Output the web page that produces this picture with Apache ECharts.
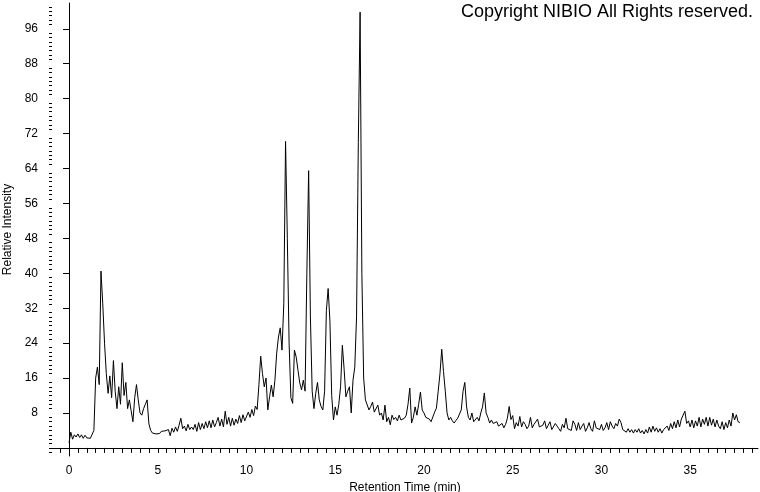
<!DOCTYPE html>
<html>
<head>
<meta charset="utf-8">
<title>Chromatogram</title>
<script src="https://cdn.jsdelivr.net/npm/echarts@6/dist/echarts.min.js"></script>
<style>
  html, body { margin: 0; padding: 0; background: #fff; }
  #chart { width: 760px; height: 492px; }
</style>
</head>
<body>
<div id="chart"></div>
<script>
// retention time sampling (min)
const timeStart = 0
const timeStep = 0.1

// relative intensity, one value per timeStep from 0.0 to 37.8 min
const intensity = [
  1.2, 3.6, 2.0, 3.0, 2.5, 3.2, 2.4, 3.0, 2.2, 2.9,
  2.3, 2.7, 2.2, 2.6, 4.0, 16.0, 18.5, 14.5, 40.5, 33.0,
  24.0, 17.0, 12.5, 16.5, 11.5, 20.0, 13.0, 9.0, 14.0, 10.0,
  19.5, 12.0, 15.0, 9.0, 11.0, 8.5, 6.0, 11.5, 14.5, 11.0,
  8.0, 7.5, 9.0, 10.0, 11.0, 5.5, 4.0, 3.4, 3.6, 3.2,
  3.5, 3.3, 3.8, 3.4, 3.9, 3.5, 4.2, 2.8, 4.5, 3.6,
  4.8, 3.8, 5.2, 6.8, 4.4, 5.0, 3.9, 5.4, 4.2, 4.8,
  4.2, 5.4, 3.8, 5.8, 4.2, 5.6, 4.4, 6.0, 4.6, 6.2,
  4.6, 6.4, 4.8, 5.8, 7.0, 5.0, 6.6, 4.8, 8.4, 5.4,
  7.0, 5.0, 6.8, 5.2, 6.6, 5.6, 7.4, 5.8, 7.6, 6.2,
  6.6, 8.2, 7.0, 8.8, 7.4, 9.6, 8.8, 14.5, 21.0, 17.0,
  14.0, 16.0, 8.7, 11.7, 14.4, 11.7, 15.5, 21.7, 25.4, 27.5,
  22.4, 33.0, 70.2, 48.0, 24.0, 11.5, 10.2, 22.4, 20.8, 17.8,
  14.9, 13.3, 15.5, 13.0, 40.0, 63.5, 30.0, 13.0, 9.0, 12.5,
  15.0, 11.0, 9.5, 8.7, 13.0, 31.5, 36.5, 29.0, 12.0, 6.4,
  9.4, 7.5, 10.0, 14.0, 23.5, 18.0, 11.7, 13.0, 14.0, 8.0,
  15.5, 18.5, 30.0, 70.0, 99.8, 40.0, 16.0, 11.0, 11.4, 8.7,
  9.5, 10.5, 8.2, 8.5, 9.8, 7.5, 8.0, 6.4, 9.8, 6.0,
  7.0, 5.3, 7.5, 6.5, 7.0, 6.2, 7.5, 6.4, 6.0, 6.8,
  7.5, 10.0, 13.7, 5.7, 7.0, 9.4, 7.5, 10.0, 12.8, 8.7,
  8.0, 7.0, 7.4, 6.6, 6.0, 6.4, 8.2, 9.1, 13.0, 17.0,
  22.6, 17.5, 13.0, 8.0, 6.4, 7.0, 6.2, 5.7, 6.3, 6.8,
  7.2, 8.7, 13.0, 15.0, 9.4, 7.0, 6.4, 8.0, 6.0, 6.4,
  7.0, 6.2, 8.0, 9.4, 12.6, 8.0, 7.0, 5.7, 6.4, 5.6,
  5.3, 6.0, 5.0, 4.6, 5.6, 4.6, 5.4, 6.8, 9.5, 6.5,
  7.4, 4.4, 5.8, 5.0, 7.2, 4.8, 6.0, 5.4, 4.4, 5.0,
  7.0, 4.6, 5.4, 5.0, 6.6, 4.8, 4.4, 5.2, 6.2, 4.4,
  5.2, 6.0, 4.2, 4.0, 5.6, 5.0, 4.4, 3.8, 5.4, 4.6,
  6.8, 4.4, 4.8, 4.0, 6.2, 5.4, 4.0, 5.8, 4.2, 5.0,
  5.6, 3.8, 4.6, 5.8, 4.4, 3.8, 6.2, 4.6, 5.0, 4.2,
  5.4, 4.0, 4.6, 5.8, 4.2, 6.0, 5.0, 4.4, 5.6, 5.0,
  6.6, 5.8, 4.2, 4.6, 3.6, 4.4, 3.6, 4.2, 3.4, 4.2,
  3.6, 4.4, 3.4, 4.0, 3.2, 4.2, 3.4, 4.8, 3.6, 5.0,
  3.8, 4.6, 3.6, 4.4, 3.4, 4.2, 3.8, 5.0, 4.0, 5.6,
  4.4, 6.0, 4.6, 6.4, 4.8, 6.6, 7.0, 8.4, 5.6, 6.2,
  4.8, 6.4, 4.6, 6.2, 5.0, 7.0, 4.8, 6.6, 5.4, 7.0,
  5.0, 7.0, 5.2, 6.6, 4.8, 6.4, 5.0, 4.4, 6.0, 4.2,
  5.8, 4.6, 6.4, 5.0, 8.0, 6.4, 7.6, 6.0, 5.8
]

// axis ticks and labels
const xLabelValues = [0, 5, 10, 15, 20, 25, 30, 35]
const xTickValues = [-0.5, 0, 0.5, 1, 1.5, 2, 2.5, 3, 3.5, 4, 4.5, 5, 5.5, 6, 6.5, 7, 7.5, 8, 8.5, 9, 9.5,
  10, 10.5, 11, 11.5, 12, 12.5, 13, 13.5, 14, 14.5, 15, 15.5, 16, 16.5, 17, 17.5, 18, 18.5, 19, 19.5,
  20, 20.5, 21, 21.5, 22, 22.5, 23, 23.5, 24, 24.5, 25, 25.5, 26, 26.5, 27, 27.5, 28, 28.5, 29, 29.5,
  30, 30.5, 31, 31.5, 32, 32.5, 33, 33.5, 34, 34.5, 35, 35.5, 36, 36.5, 37, 37.5, 38, 38.5]
const yLabelValues = [8, 16, 24, 32, 40, 48, 56, 64, 72, 80, 88, 96]
const yMinorTickValues = [-1, 0, 1, 2, 3, 4, 5, 6, 7, 9, 10, 11, 12, 13, 14, 15, 17, 18, 19, 20, 21, 22, 23,
  25, 26, 27, 28, 29, 30, 31, 33, 34, 35, 36, 37, 38, 39, 41, 42, 43, 44, 45, 46, 47,
  49, 50, 51, 52, 53, 54, 55, 57, 58, 59, 60, 61, 62, 63, 65, 66, 67, 68, 69, 70, 71,
  73, 74, 75, 76, 77, 78, 79, 81, 82, 83, 84, 85, 86, 87, 89, 90, 91, 92, 93, 94, 95,
  97, 98, 99, 100, 101]

const copyrightText = 'Copyright NIBIO All Rights reserved.'

const font = '"Liberation Sans", Arial, sans-serif'
const xRange = [-0.96, 38.82]
const yRange = [-1.85, 101.9]

const chartEl = document.getElementById('chart')
const chart = echarts.init(chartEl, null, { renderer: 'canvas' })

const seriesData = intensity.map((v, i) => [+(timeStart + i * timeStep).toFixed(2), v])

const baseY = {
  type: 'value',
  min: yRange[0],
  max: yRange[1],
  splitLine: { show: false },
}

chart.setOption({
  animation: false,
  backgroundColor: '#fff',
  grid: {
    left: 52,
    right: 2,
    top: 3,
    bottom: 36,
    containLabel: false,
    outerBoundsMode: 'none'
  },
  graphic: [{
    type: 'text',
    right: 7,
    top: 3,
    style: {
      text: copyrightText,
      font: '18px ' + font,
      fill: '#000'
    }
  }],
  xAxis: {
    type: 'value',
    min: xRange[0],
    max: xRange[1],
    name: 'Retention Time (min)',
    nameLocation: 'middle',
    nameGap: 21,
    nameTextStyle: { color: '#000', fontSize: 12, fontFamily: font },
    axisLine: { lineStyle: { color: '#000', width: 1 } },
    axisTick: { customValues: xTickValues, length: 5, lineStyle: { color: '#000' } },
    axisLabel: { customValues: xLabelValues, color: '#000', fontSize: 12, fontFamily: font, margin: 9 },
    splitLine: { show: false }
  },
  yAxis: [
    {
      ...baseY,
      name: 'Relative Intensity',
      nameLocation: 'middle',
      nameGap: 35,
      nameTextStyle: { color: '#000', fontSize: 12, fontFamily: font },
      axisLine: { show: true, lineStyle: { color: '#000', width: 1 } },
      axisTick: { customValues: yLabelValues, length: 6, lineStyle: { color: '#000' } },
      axisLabel: { customValues: yLabelValues, color: '#000', fontSize: 12, fontFamily: font, margin: 14 }
    },
    {
      ...baseY,
      position: 'left',
      axisLine: { show: false },
      axisTick: { show: true, customValues: yMinorTickValues, length: 3, lineStyle: { color: '#000' } },
      axisLabel: { show: false }
    }
  ],
  series: [{
    type: 'line',
    data: seriesData,
    yAxisIndex: 0,
    showSymbol: false,
    symbol: 'none',
    lineStyle: { color: '#000', width: 1 },
    silent: true
  }]
})

window.addEventListener('resize', () => chart.resize())
</script>
</body>
</html>
